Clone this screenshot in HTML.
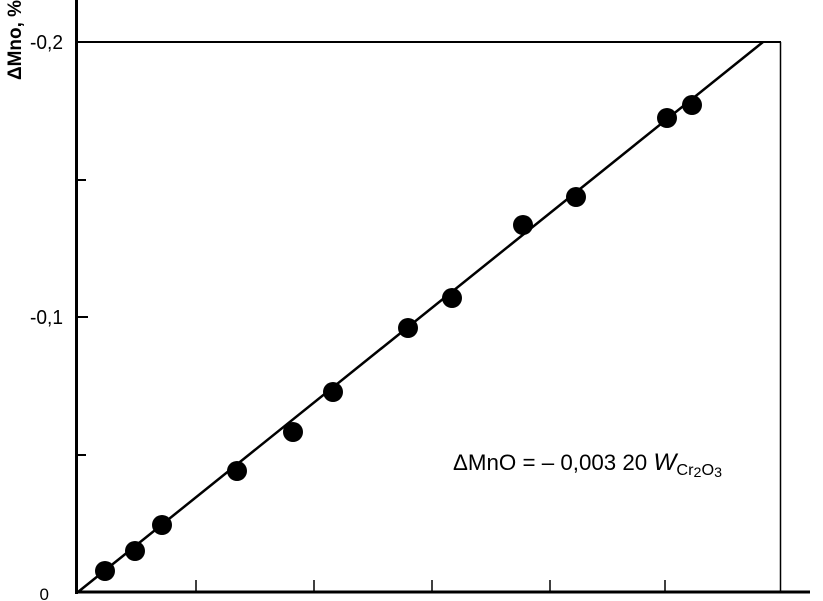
<!DOCTYPE html>
<html><head><style>body{margin:0;background:#fff}svg{display:block}</style></head><body>
<svg width="823" height="601" viewBox="0 0 823 601" xmlns="http://www.w3.org/2000/svg" font-family="Liberation Sans, sans-serif">
<rect width="823" height="601" fill="#fff"/>
<g stroke="#000" fill="none">
<line x1="76.5" y1="0" x2="76.5" y2="594" stroke-width="3"/>
<line x1="75" y1="592" x2="810" y2="592" stroke-width="3"/>
<line x1="76" y1="42" x2="781" y2="42" stroke-width="2"/>
<line x1="780.5" y1="42" x2="780.5" y2="592" stroke-width="1.5"/>
<line x1="76" y1="180" x2="86" y2="180" stroke-width="2"/>
<line x1="76" y1="317" x2="88" y2="317" stroke-width="2"/>
<line x1="76" y1="455" x2="86" y2="455" stroke-width="2"/>
<line x1="196" y1="580" x2="196" y2="592" stroke-width="1.5"/>
<line x1="314" y1="580" x2="314" y2="592" stroke-width="1.5"/>
<line x1="432" y1="580" x2="432" y2="592" stroke-width="1.5"/>
<line x1="550" y1="580" x2="550" y2="592" stroke-width="1.5"/>
<line x1="665" y1="580" x2="665" y2="592" stroke-width="1.5"/>
<line x1="78" y1="592" x2="763" y2="42" stroke-width="2.5"/>
</g>
<g fill="#000">
<circle cx="105" cy="571" r="10"/><circle cx="135" cy="551" r="10"/><circle cx="162" cy="525" r="10"/>
<circle cx="237" cy="471" r="10"/><circle cx="293" cy="432" r="10"/><circle cx="333" cy="392" r="10"/>
<circle cx="408" cy="328" r="10"/><circle cx="452" cy="298" r="10"/><circle cx="523" cy="225" r="10"/>
<circle cx="576" cy="197" r="10"/><circle cx="667" cy="118" r="10"/><circle cx="692" cy="105" r="10"/>
<text x="63" y="49" font-size="20" text-anchor="end" textLength="33" lengthAdjust="spacingAndGlyphs">-0,2</text>
<text x="63" y="324" font-size="20" text-anchor="end" textLength="33" lengthAdjust="spacingAndGlyphs">-0,1</text>
<text x="49" y="600" font-size="17" text-anchor="end">0</text>
<text transform="translate(21,80) rotate(-90)" font-size="19" font-weight="bold" textLength="80" lengthAdjust="spacingAndGlyphs">ΔMno, %</text>
<text x="453" y="470" font-size="22" textLength="269" lengthAdjust="spacingAndGlyphs">ΔMnO = – 0,003 20 <tspan font-style="italic" font-size="24">W</tspan><tspan font-size="16" dy="5">Cr</tspan><tspan font-size="14" dy="2">2</tspan><tspan font-size="16" dy="-2">O</tspan><tspan font-size="14" dy="2">3</tspan></text>
</g>
</svg>
</body></html>
